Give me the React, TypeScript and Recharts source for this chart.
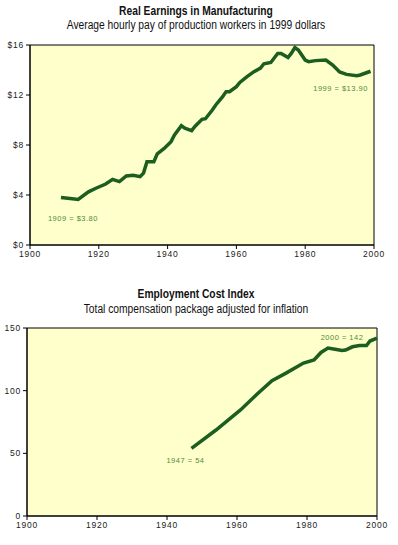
import { LineChart, Line, XAxis, YAxis, ReferenceArea, ReferenceDot } from "recharts";

const earnYears = [1909, 1911, 1914, 1917, 1919, 1922, 1924, 1926, 1928, 1930, 1932, 1933, 1934, 1936, 1937, 1939, 1941, 1942, 1944, 1945, 1947, 1948, 1950, 1951, 1953, 1954, 1956, 1957, 1958, 1960, 1961, 1963, 1965, 1967, 1968, 1970, 1972, 1973, 1975, 1976, 1977, 1978, 1980, 1981, 1983, 1986, 1988, 1990, 1992, 1995, 1996, 1998, 1999];
const earnValues = [3.8, 3.74, 3.65, 4.25, 4.52, 4.88, 5.25, 5.07, 5.52, 5.58, 5.47, 5.75, 6.67, 6.67, 7.3, 7.72, 8.27, 8.8, 9.55, 9.35, 9.15, 9.5, 10.05, 10.1, 10.8, 11.2, 11.87, 12.27, 12.27, 12.67, 13.0, 13.45, 13.85, 14.15, 14.5, 14.6, 15.33, 15.33, 15.0, 15.35, 15.8, 15.6, 14.8, 14.67, 14.75, 14.8, 14.4, 13.85, 13.65, 13.55, 13.6, 13.8, 13.9];

const ecYears = [1947, 1954, 1961, 1966, 1970, 1974, 1979, 1982, 1984, 1986, 1988, 1990, 1991, 1993, 1995, 1997, 1998, 2000];
const ecValues = [54, 68.6, 84.6, 98, 108, 114, 122, 124.5, 130.5, 134, 133, 132, 132.4, 135, 136, 136, 139.6, 142];

const yearTicks = [1900, 1920, 1940, 1960, 1980, 2000];
const earnTicks = [0, 4, 8, 12, 16];
const ecTicks = [0, 50, 100, 150];

const earnData = earnYears.map((year, i) => ({ year, value: earnValues[i] }));
const ecData = ecYears.map((year, i) => ({ year, value: ecValues[i] }));

const LINE = "#1b5e1f";
const NOTE = "#4f8a3c";
const BG = "#ffffcc";
const tickStyle = { fontSize: 8.5, fill: "#222", letterSpacing: 0.8, fontFamily: "'Liberation Sans', Arial, sans-serif" };

const titleStyle: React.CSSProperties = {
  position: "absolute",
  left: 0,
  width: 392,
  textAlign: "center",
  fontFamily: "'Liberation Sans', Arial, sans-serif",
  fontSize: 12.5,
  lineHeight: "14px",
  color: "#111",
  transform: "scaleX(0.82)",
  transformOrigin: "196px 0",
  whiteSpace: "nowrap",
};

function note(text: string, dx: number, dy: number) {
  return (props: any) => {
    const vb = props.viewBox || {};
    return (
      <text
        x={vb.x + dx}
        y={vb.y + dy}
        fill={NOTE}
        fontSize={7.5}
        letterSpacing={0.5}
        fontFamily="'Liberation Sans', Arial, sans-serif"
        textAnchor="middle"
      >
        {text}
      </text>
    );
  };
}

export default function App() {
  return (
    <div style={{ position: "absolute", left: 0, top: 0, width: 398, height: 545, background: "#fff" }}>
      <div style={{ ...titleStyle, top: 4, fontWeight: 700 }}>Real Earnings in Manufacturing</div>
      <div style={{ ...titleStyle, top: 18 }}>Average hourly pay of production workers in 1999 dollars</div>

      <div style={{ position: "absolute", left: 0, top: 0 }}>
        <LineChart width={398} height={270} data={earnData} margin={{ top: 45, right: 24, bottom: 0, left: 0 }}>
          <XAxis
            dataKey="year"
            type="number"
            domain={[1900, 2000]}
            ticks={yearTicks}
            tick={tickStyle}
            tickSize={4}
            stroke="#000"
            height={25}
            interval={0}
          />
          <YAxis
            type="number"
            domain={[0, 16]}
            ticks={earnTicks}
            tick={tickStyle}
            tickSize={4}
            tickFormatter={(v) => `$${v}`}
            stroke="#000"
            width={30}
            interval={0}
          />
          <ReferenceArea x1={1900} x2={2000} y1={0} y2={16} fill={BG} fillOpacity={1} stroke="#000" strokeWidth={1} />
          <Line type="linear" dataKey="value" stroke={LINE} strokeWidth={3.5} dot={false} isAnimationActive={false} />
          <ReferenceDot x={1909} y={3.8} r={0} stroke="none" label={note("1909 = $3.80", 12, 23)} />
          <ReferenceDot x={1999} y={13.9} r={0} stroke="none" label={note("1999 = $13.90", -30, 20)} />
        </LineChart>
      </div>

      <div style={{ ...titleStyle, top: 287, fontWeight: 700 }}>Employment Cost Index</div>
      <div style={{ ...titleStyle, top: 302 }}>Total compensation package adjusted for inflation</div>

      <div style={{ position: "absolute", left: 0, top: 280 }}>
        <LineChart width={398} height={265} data={ecData} margin={{ top: 48, right: 21, bottom: 0, left: 0 }}>
          <XAxis
            dataKey="year"
            type="number"
            domain={[1900, 2000]}
            ticks={yearTicks}
            tick={tickStyle}
            tickSize={4}
            stroke="#000"
            height={29}
            interval={0}
          />
          <YAxis
            type="number"
            domain={[0, 150]}
            ticks={ecTicks}
            tick={tickStyle}
            tickSize={4}
            stroke="#000"
            width={27}
            interval={0}
          />
          <ReferenceArea x1={1900} x2={2000} y1={0} y2={150} fill={BG} fillOpacity={1} stroke="#000" strokeWidth={1} />
          <Line type="linear" dataKey="value" stroke={LINE} strokeWidth={3.5} dot={false} isAnimationActive={false} />
          <ReferenceDot x={1947} y={54} r={0} stroke="none" label={note("1947 = 54", -6, 15)} />
          <ReferenceDot x={2000} y={142} r={0} stroke="none" label={note("2000 = 142", -35, 2)} />
        </LineChart>
      </div>
    </div>
  );
}
